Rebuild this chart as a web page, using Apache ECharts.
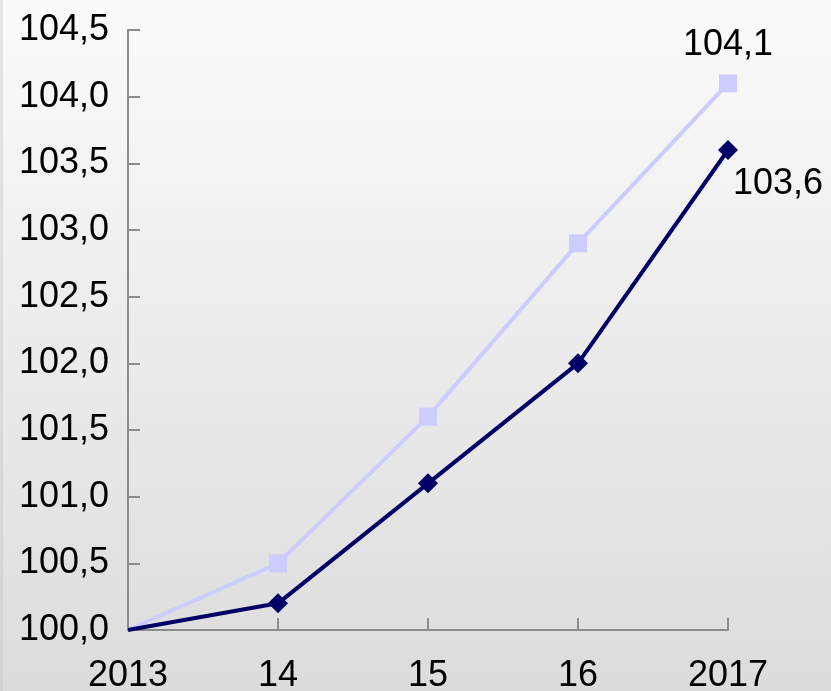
<!DOCTYPE html>
<html>
<head>
<meta charset="utf-8">
<script src="https://cdn.jsdelivr.net/npm/echarts@6/dist/echarts.min.js"></script>
<style>
  html, body { margin: 0; padding: 0; }
  #chart { width: 831px; height: 691px; }
</style>
</head>
<body>
<div id="chart"></div>
<script>
// Index values, 2013 = 100
const years = ['2013', '14', '15', '16', '2017'];
const seriesLight = [100.0, 100.5, 101.6, 102.9, 104.1];
const seriesDark = [100.0, 100.2, 101.1, 102.0, 103.6];
const yTicks = { min: 100, max: 104.5, step: 0.5 };

const comma = v => Number(v).toFixed(1).replace('.', ',');
const FONT = '"Liberation Sans", Arial, sans-serif';
const FS = 36;

// the base year is the common origin, so it carries no marker
const sizeFrom = s => (v, p) => (p.dataIndex === 0 ? 0 : s);

const chart = echarts.init(document.getElementById('chart'), null, { renderer: 'canvas' });

chart.setOption({
  animation: false,
  backgroundColor: {
    type: 'linear', x: 0, y: 0, x2: 0, y2: 1,
    colorStops: [
      { offset: 0, color: '#fbfbfb' },
      { offset: 1, color: '#dcdcdc' }
    ]
  },
  graphic: [{
    type: 'rect',
    shape: { x: 0, y: 0, width: 3, height: 691 },
    style: {
      fill: {
        type: 'linear', x: 0, y: 0, x2: 0, y2: 1,
        colorStops: [
          { offset: 0, color: '#e6e6e6' },
          { offset: 1, color: '#d2d2d2' }
        ]
      }
    },
    silent: true
  }],
  grid: { left: 128, right: 103, top: 30, bottom: 61, containLabel: false, outerBoundsMode: 'none' },
  xAxis: {
    type: 'category',
    data: years,
    boundaryGap: false,
    axisLine: { lineStyle: { color: '#8c8c8c', width: 2 } },
    axisTick: { inside: true, length: 12, alignWithLabel: true, lineStyle: { color: '#8c8c8c', width: 2 } },
    axisLabel: { color: '#000', fontFamily: FONT, fontSize: FS, margin: 28 },
    splitLine: { show: false }
  },
  yAxis: {
    type: 'value',
    min: yTicks.min,
    max: yTicks.max,
    interval: yTicks.step,
    axisLine: { show: true, lineStyle: { color: '#8c8c8c', width: 2 } },
    axisTick: { show: true, inside: true, length: 12, lineStyle: { color: '#8c8c8c', width: 2 } },
    axisLabel: { color: '#000', fontFamily: FONT, fontSize: FS, margin: 19, formatter: comma },
    splitLine: { show: false }
  },
  series: [
    {
      name: 'light',
      type: 'line',
      data: seriesLight,
      symbol: 'rect',
      symbolSize: sizeFrom(18),
      showAllSymbol: true,
      lineStyle: { color: '#ccccff', width: 4 },
      itemStyle: { color: '#ccccff' },
      label: {
        show: true,
        position: 'top',
        distance: 11,
        color: '#000',
        fontFamily: FONT,
        fontSize: FS,
        formatter: p => (p.dataIndex === seriesLight.length - 1 ? comma(p.value) : '')
      },
      z: 2
    },
    {
      name: 'dark',
      type: 'line',
      data: seriesDark,
      symbol: 'diamond',
      symbolSize: sizeFrom(20),
      showAllSymbol: true,
      lineStyle: { color: '#000066', width: 4 },
      itemStyle: { color: '#000066' },
      label: {
        show: true,
        position: [60, 44],
        align: 'center',
        verticalAlign: 'middle',
        color: '#000',
        fontFamily: FONT,
        fontSize: FS,
        formatter: p => (p.dataIndex === seriesDark.length - 1 ? comma(p.value) : '')
      },
      z: 3
    }
  ]
});
</script>
</body>
</html>
